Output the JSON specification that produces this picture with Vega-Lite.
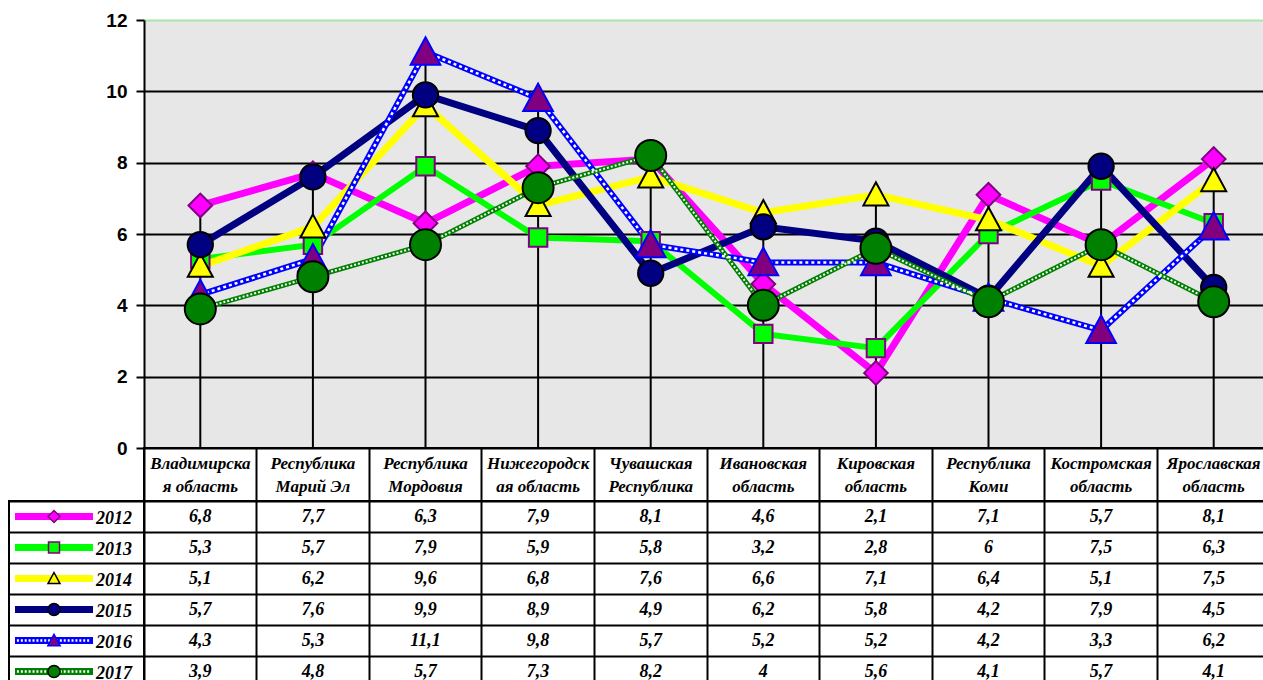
{
  "$schema": "https://vega.github.io/schema/vega-lite/v6.json",
  "padding": {"left": 8, "top": 11, "right": 0, "bottom": 0},
  "background": "white",
  "config": {
    "locale": {"number": {"decimal": ",", "thousands": " ", "grouping": [3], "currency": ["", ""]}},
    "font": "Liberation Serif"
  },
  "datasets": {
    "rates": [
      {"region": "Владимирская область", "year": 2012, "value": 6.8},
      {"region": "Республика Марий Эл", "year": 2012, "value": 7.7},
      {"region": "Республика Мордовия", "year": 2012, "value": 6.3},
      {"region": "Нижегородская область", "year": 2012, "value": 7.9},
      {"region": "Чувашская Республика", "year": 2012, "value": 8.1},
      {"region": "Ивановская область", "year": 2012, "value": 4.6},
      {"region": "Кировская область", "year": 2012, "value": 2.1},
      {"region": "Республика Коми", "year": 2012, "value": 7.1},
      {"region": "Костромская область", "year": 2012, "value": 5.7},
      {"region": "Ярославская область", "year": 2012, "value": 8.1},
      {"region": "Владимирская область", "year": 2013, "value": 5.3},
      {"region": "Республика Марий Эл", "year": 2013, "value": 5.7},
      {"region": "Республика Мордовия", "year": 2013, "value": 7.9},
      {"region": "Нижегородская область", "year": 2013, "value": 5.9},
      {"region": "Чувашская Республика", "year": 2013, "value": 5.8},
      {"region": "Ивановская область", "year": 2013, "value": 3.2},
      {"region": "Кировская область", "year": 2013, "value": 2.8},
      {"region": "Республика Коми", "year": 2013, "value": 6},
      {"region": "Костромская область", "year": 2013, "value": 7.5},
      {"region": "Ярославская область", "year": 2013, "value": 6.3},
      {"region": "Владимирская область", "year": 2014, "value": 5.1},
      {"region": "Республика Марий Эл", "year": 2014, "value": 6.2},
      {"region": "Республика Мордовия", "year": 2014, "value": 9.6},
      {"region": "Нижегородская область", "year": 2014, "value": 6.8},
      {"region": "Чувашская Республика", "year": 2014, "value": 7.6},
      {"region": "Ивановская область", "year": 2014, "value": 6.6},
      {"region": "Кировская область", "year": 2014, "value": 7.1},
      {"region": "Республика Коми", "year": 2014, "value": 6.4},
      {"region": "Костромская область", "year": 2014, "value": 5.1},
      {"region": "Ярославская область", "year": 2014, "value": 7.5},
      {"region": "Владимирская область", "year": 2015, "value": 5.7},
      {"region": "Республика Марий Эл", "year": 2015, "value": 7.6},
      {"region": "Республика Мордовия", "year": 2015, "value": 9.9},
      {"region": "Нижегородская область", "year": 2015, "value": 8.9},
      {"region": "Чувашская Республика", "year": 2015, "value": 4.9},
      {"region": "Ивановская область", "year": 2015, "value": 6.2},
      {"region": "Кировская область", "year": 2015, "value": 5.8},
      {"region": "Республика Коми", "year": 2015, "value": 4.2},
      {"region": "Костромская область", "year": 2015, "value": 7.9},
      {"region": "Ярославская область", "year": 2015, "value": 4.5},
      {"region": "Владимирская область", "year": 2016, "value": 4.3},
      {"region": "Республика Марий Эл", "year": 2016, "value": 5.3},
      {"region": "Республика Мордовия", "year": 2016, "value": 11.1},
      {"region": "Нижегородская область", "year": 2016, "value": 9.8},
      {"region": "Чувашская Республика", "year": 2016, "value": 5.7},
      {"region": "Ивановская область", "year": 2016, "value": 5.2},
      {"region": "Кировская область", "year": 2016, "value": 5.2},
      {"region": "Республика Коми", "year": 2016, "value": 4.2},
      {"region": "Костромская область", "year": 2016, "value": 3.3},
      {"region": "Ярославская область", "year": 2016, "value": 6.2},
      {"region": "Владимирская область", "year": 2017, "value": 3.9},
      {"region": "Республика Марий Эл", "year": 2017, "value": 4.8},
      {"region": "Республика Мордовия", "year": 2017, "value": 5.7},
      {"region": "Нижегородская область", "year": 2017, "value": 7.3},
      {"region": "Чувашская Республика", "year": 2017, "value": 8.2},
      {"region": "Ивановская область", "year": 2017, "value": 4},
      {"region": "Кировская область", "year": 2017, "value": 5.6},
      {"region": "Республика Коми", "year": 2017, "value": 4.1},
      {"region": "Костромская область", "year": 2017, "value": 5.7},
      {"region": "Ярославская область", "year": 2017, "value": 4.1}
    ],
    "regions": [
      {"region": "Владимирская область", "label": "Владимирска\nя область"},
      {"region": "Республика Марий Эл", "label": "Республика\nМарий Эл"},
      {"region": "Республика Мордовия", "label": "Республика\nМордовия"},
      {"region": "Нижегородская область", "label": "Нижегородск\nая область"},
      {"region": "Чувашская Республика", "label": "Чувашская\nРеспублика"},
      {"region": "Ивановская область", "label": "Ивановская\nобласть"},
      {"region": "Кировская область", "label": "Кировская\nобласть"},
      {"region": "Республика Коми", "label": "Республика\nКоми"},
      {"region": "Костромская область", "label": "Костромская\nобласть"},
      {"region": "Ярославская область", "label": "Ярославская\nобласть"}
    ],
    "years": [
      {"year": 2012}, {"year": 2013}, {"year": 2014}, {"year": 2015}, {"year": 2016}, {"year": 2017}
    ]
  },
  "columns": 2,
  "spacing": 0,
  "bounds": "flush",
  "resolve": {"scale": {"size": "independent"}},
  "concat": [
    {
      "width": 135, "height": 428,
      "view": {"stroke": null},
      "data": {"values": [{}]},
      "mark": {"type": "point", "opacity": 0},
      "encoding": {}
    },
    {
      "width": 1126, "height": 428,
      "view": {"fill": "#e7e7e7", "stroke": null},
      "data": {"name": "rates"},
      "encoding": {
        "x": {"field": "region", "type": "nominal", "sort": null, "axis": null},
        "y": {
          "field": "value", "type": "quantitative",
          "scale": {"domain": [0, 12], "nice": false},
          "axis": {
            "values": [0, 2, 4, 6, 8, 10, 12],
            "title": null,
            "grid": true,
            "gridColor": {"condition": {"test": "datum.value == 12", "value": "#a6e6a6"}, "value": "black"},
            "gridWidth": 2,
            "domainColor": "black", "domainWidth": 2,
            "tickColor": "black", "tickWidth": 2, "tickSize": 8,
            "labelFont": "Liberation Sans", "labelFontWeight": "bold", "labelFontSize": 19,
            "labelColor": "black", "labelPadding": 9
          }
        }
      },
      "layer": [
        {
          "mark": {"type": "rule", "color": "black", "strokeWidth": 2},
          "encoding": {
            "y": {"aggregate": "max", "field": "value", "type": "quantitative"},
            "y2": {"datum": 0}
          }
        },
        {
          "mark": {"type": "line", "strokeJoin": "miter"},
          "encoding": {
            "color": {"field": "year", "type": "nominal", "legend": null,
              "scale": {"domain": [2012, 2013, 2014, 2015, 2016, 2017], "range": ["#ff00ff", "#00ff00", "#ffff00", "#000080", "#0000ff", "#008000"]}},
            "strokeWidth": {"field": "year", "type": "nominal", "legend": null,
              "scale": {"type": "ordinal", "domain": [2012, 2013, 2014, 2015, 2016, 2017], "range": [7, 6, 7, 7, 6, 5]}}
          }
        },
        {
          "transform": [{"filter": "datum.year == 2016"}],
          "mark": {"type": "line", "stroke": "white", "strokeWidth": 2.5, "strokeDash": [3, 3]},
          "encoding": {}
        },
        {
          "transform": [{"filter": "datum.year == 2017"}],
          "mark": {"type": "line", "stroke": "white", "strokeWidth": 2, "strokeDash": [2, 2]},
          "encoding": {}
        },
        {
          "mark": {"type": "point", "filled": true, "strokeWidth": 2, "opacity": 1},
          "encoding": {
            "shape": {"field": "year", "type": "nominal", "legend": null,
              "scale": {"domain": [2012, 2013, 2014, 2015, 2016, 2017], "range": ["diamond", "square", "M0,-1L1,0.85L-1,0.85Z", "circle", "M0,-1L1,0.85L-1,0.85Z", "circle"]}},
            "fill": {"field": "year", "type": "nominal", "legend": null,
              "scale": {"domain": [2012, 2013, 2014, 2015, 2016, 2017], "range": ["#ff00ff", "#00ff00", "#ffff00", "#000080", "#800080", "#008000"]}},
            "stroke": {"field": "year", "type": "nominal", "legend": null,
              "scale": {"domain": [2012, 2013, 2014, 2015, 2016, 2017], "range": ["#800080", "#800080", "#000000", "#000000", "#0000ff", "#000000"]}},
            "size": {"field": "year", "type": "nominal", "legend": null,
              "scale": {"type": "ordinal", "domain": [2012, 2013, 2014, 2015, 2016, 2017], "range": [560, 340, 625, 640, 880, 960]}}
          }
        }
      ]
    },
    {
      "width": 135, "height": 53,
      "view": {"stroke": null},
      "data": {"values": [{}]},
      "mark": {"type": "point", "opacity": 0},
      "encoding": {}
    },
    {
      "width": 1126, "height": 53,
      "view": {"stroke": "black", "strokeWidth": 2},
      "data": {"name": "regions"},
      "mark": {"type": "text", "font": "Liberation Serif", "fontWeight": "bold", "fontStyle": "italic", "fontSize": 17, "lineBreak": "\n", "lineHeight": 23, "baseline": "middle", "align": "center", "dy": -11, "color": "black"},
      "encoding": {
        "x": {"field": "region", "type": "nominal", "sort": null,
          "scale": {"type": "band", "paddingInner": 0, "paddingOuter": 0},
          "axis": {"grid": true, "bandPosition": 0, "gridColor": "black", "gridWidth": 2, "labels": false, "ticks": false, "domain": false, "title": null}},
        "text": {"field": "label", "type": "nominal"}
      }
    },
    {
      "width": 135, "height": 186,
      "view": {"stroke": "black", "strokeWidth": 2},
      "data": {"name": "years"},
      "encoding": {
        "y": {"field": "year", "type": "nominal", "sort": null,
          "scale": {"type": "band", "paddingInner": 0, "paddingOuter": 0},
          "axis": {"grid": true, "bandPosition": 0, "gridColor": "black", "gridWidth": 2, "labels": false, "ticks": false, "domain": false, "title": null}},
        "x": {"datum": "sym", "type": "nominal",
          "scale": {"type": "band", "domain": ["sym", "yr"], "paddingInner": 0, "paddingOuter": 0.125, "align": 1},
          "axis": null}
      },
      "layer": [
        {
          "mark": {"type": "point", "shape": "M-1,-0.09L1,-0.09L1,0.09L-1,0.09Z", "size": 6084, "filled": true, "strokeWidth": 0, "opacity": 1},
          "encoding": {
            "color": {"field": "year", "type": "nominal", "legend": null,
              "scale": {"domain": [2012, 2013, 2014, 2015, 2016, 2017], "range": ["#ff00ff", "#00ff00", "#ffff00", "#000080", "#0000ff", "#008000"]}}
          }
        },
        {
          "transform": [{"filter": "datum.year >= 2016"}],
          "mark": {"type": "point", "shape": "M-0.95,-0.035h0.05v0.07h-0.05zM-0.85,-0.035h0.05v0.07h-0.05zM-0.75,-0.035h0.05v0.07h-0.05zM-0.65,-0.035h0.05v0.07h-0.05zM-0.55,-0.035h0.05v0.07h-0.05zM-0.45,-0.035h0.05v0.07h-0.05zM-0.35,-0.035h0.05v0.07h-0.05zM-0.25,-0.035h0.05v0.07h-0.05zM-0.15,-0.035h0.05v0.07h-0.05zM-0.05,-0.035h0.05v0.07h-0.05zM0.05,-0.035h0.05v0.07h-0.05zM0.15,-0.035h0.05v0.07h-0.05zM0.25,-0.035h0.05v0.07h-0.05zM0.35,-0.035h0.05v0.07h-0.05zM0.45,-0.035h0.05v0.07h-0.05zM0.55,-0.035h0.05v0.07h-0.05zM0.65,-0.035h0.05v0.07h-0.05zM0.75,-0.035h0.05v0.07h-0.05zM0.85,-0.035h0.05v0.07h-0.05z", "size": 6084, "filled": true, "fill": "white", "strokeWidth": 0, "opacity": 1}
        },
        {
          "mark": {"type": "point", "filled": true, "strokeWidth": 1.5, "opacity": 1},
          "encoding": {
            "shape": {"field": "year", "type": "nominal", "legend": null,
              "scale": {"domain": [2012, 2013, 2014, 2015, 2016, 2017], "range": ["diamond", "square", "M0,-1L1,0.85L-1,0.85Z", "circle", "M0,-1L1,0.85L-1,0.85Z", "circle"]}},
            "fill": {"field": "year", "type": "nominal", "legend": null,
              "scale": {"domain": [2012, 2013, 2014, 2015, 2016, 2017], "range": ["#ff00ff", "#00ff00", "#ffff00", "#000080", "#800080", "#008000"]}},
            "stroke": {"field": "year", "type": "nominal", "legend": null,
              "scale": {"domain": [2012, 2013, 2014, 2015, 2016, 2017], "range": ["#800080", "#800080", "#000000", "#000000", "#0000ff", "#000000"]}},
            "size": {"field": "year", "type": "nominal", "legend": null,
              "scale": {"type": "ordinal", "domain": [2012, 2013, 2014, 2015, 2016, 2017], "range": [144, 121, 144, 144, 150, 150]}}
          }
        },
        {
          "mark": {"type": "text", "font": "Liberation Serif", "fontWeight": "bold", "fontStyle": "italic", "fontSize": 18, "baseline": "middle", "align": "center", "dy": 2, "color": "black"},
          "encoding": {
            "x": {"datum": "yr", "type": "nominal"},
            "text": {"field": "year", "type": "nominal"}
          }
        }
      ]
    },
    {
      "width": 1126, "height": 186,
      "view": {"stroke": "black", "strokeWidth": 2},
      "data": {"name": "rates"},
      "mark": {"type": "text", "font": "Liberation Serif", "fontWeight": "bold", "fontStyle": "italic", "fontSize": 18, "baseline": "middle", "align": "center", "color": "black"},
      "encoding": {
        "x": {"field": "region", "type": "nominal", "sort": null,
          "scale": {"type": "band", "paddingInner": 0, "paddingOuter": 0},
          "axis": {"grid": true, "bandPosition": 0, "gridColor": "black", "gridWidth": 2, "labels": false, "ticks": false, "domain": false, "title": null}},
        "y": {"field": "year", "type": "nominal", "sort": null,
          "scale": {"type": "band", "paddingInner": 0, "paddingOuter": 0},
          "axis": {"grid": true, "bandPosition": 0, "gridColor": "black", "gridWidth": 2, "labels": false, "ticks": false, "domain": false, "title": null}},
        "text": {"field": "value", "type": "quantitative", "format": ".1~f"}
      }
    }
  ]
}
